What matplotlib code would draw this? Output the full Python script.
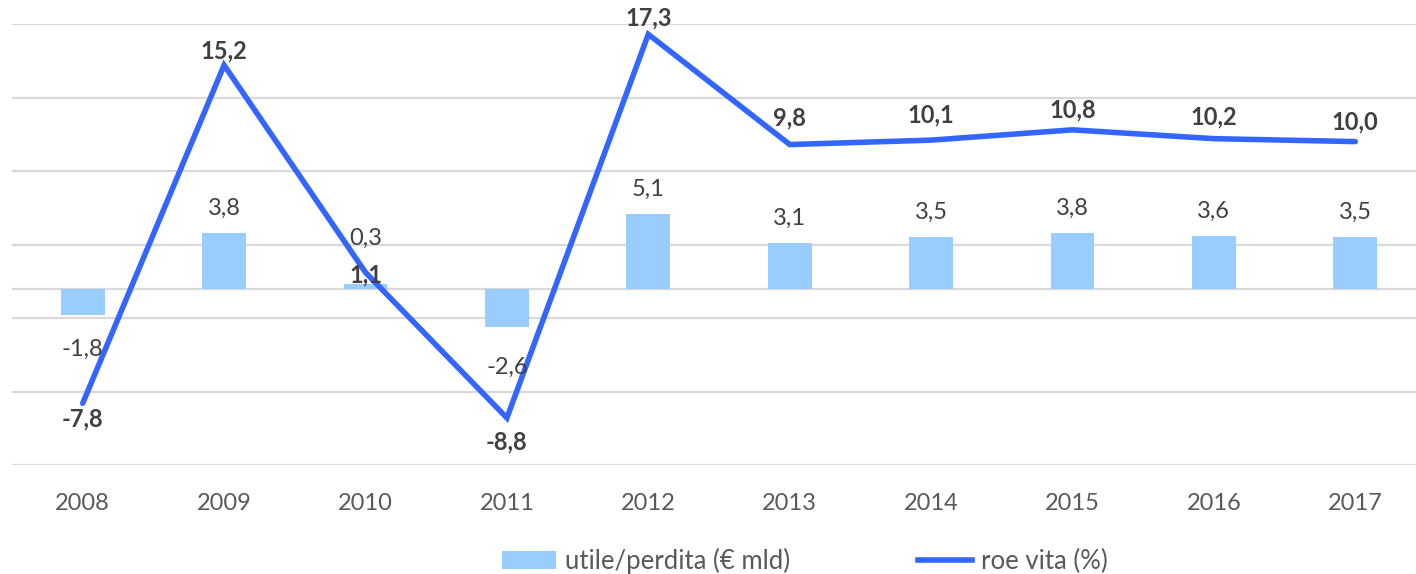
import matplotlib
matplotlib.use("Agg")
import matplotlib.pyplot as plt
from matplotlib.lines import Line2D
from matplotlib.patches import Patch

years = ["2008", "2009", "2010", "2011", "2012", "2013", "2014", "2015", "2016", "2017"]
utile = [-1.8, 3.8, 0.3, -2.6, 5.1, 3.1, 3.5, 3.8, 3.6, 3.5]
roe = [-7.8, 15.2, 1.1, -8.8, 17.3, 9.8, 10.1, 10.8, 10.2, 10.0]

def fmt(v):
    return f"{v:.1f}".replace(".", ",")

plt.rcParams['font.family'] = ['Lato', 'DejaVu Sans']

W, H = 1416, 574
fig = plt.figure(figsize=(W / 100, H / 100), dpi=100)
ax = fig.add_axes([12 / W, (H - 465) / H, (1426 - 12) / W, 441 / H])

bar_color = "#99CCFF"
line_color = "#3366FF"
grid_color = "#D9D9D9"
lab_color = "#404040"

x = list(range(len(years)))
ax.set_xlim(-0.5, len(years) - 0.5)
ax.set_ylim(-12, 18)
ax.set_yticks([-12, -7, -2, 3, 8, 13, 18])
ax.yaxis.grid(True, color=grid_color, linewidth=1.6)
ax.set_axisbelow(True)
ax.axhline(0, color=grid_color, linewidth=1.6, zorder=1)
for s in ax.spines.values():
    s.set_visible(False)
ax.tick_params(axis='y', left=False, labelleft=False)
ax.set_xticks(x)
ax.set_xticklabels(years)
ax.tick_params(axis='x', length=0, pad=20, labelsize=17, labelcolor="#595959")

ax.bar(x, utile, width=0.31, color=bar_color, zorder=2)
ax.plot(x, roe, color=line_color, linewidth=4, solid_capstyle='round',
        solid_joinstyle='miter', zorder=3)

# bar labels (offsets in points)
bar_off = [-25, 10, 33, -29, 10, 10, 10, 10, 10, 10]
for xi, v, off in zip(x, utile, bar_off):
    ax.annotate(fmt(v), (xi, v), xytext=(0, off), textcoords='offset points',
                ha='center', va='center' if off < 0 or off > 20 else 'bottom',
                fontsize=17, color=lab_color, zorder=4)

# line labels
line_off = [-11, 10, -2, -17, 12, 19, 18, 14, 16, 14]
for xi, v, off in zip(x, roe, line_off):
    ax.annotate(fmt(v), (xi, v), xytext=(0, off), textcoords='offset points',
                ha='center', va='center', fontsize=17, fontweight='bold',
                color=lab_color, zorder=5)

handles = [Patch(facecolor=bar_color, edgecolor='none'),
           Line2D([0], [0], color=line_color, linewidth=4)]
fig.legend(handles, ["utile/perdita (€ mld)", "roe vita (%)"],
           loc='center', bbox_to_anchor=(805 / W, 1 - 561 / H), ncol=2,
           frameon=False, fontsize=18.5, labelcolor="#595959",
           columnspacing=5.0, handlelength=2.1, handletextpad=0.35,
           borderpad=0)

fig.savefig("out.png", dpi=100)
